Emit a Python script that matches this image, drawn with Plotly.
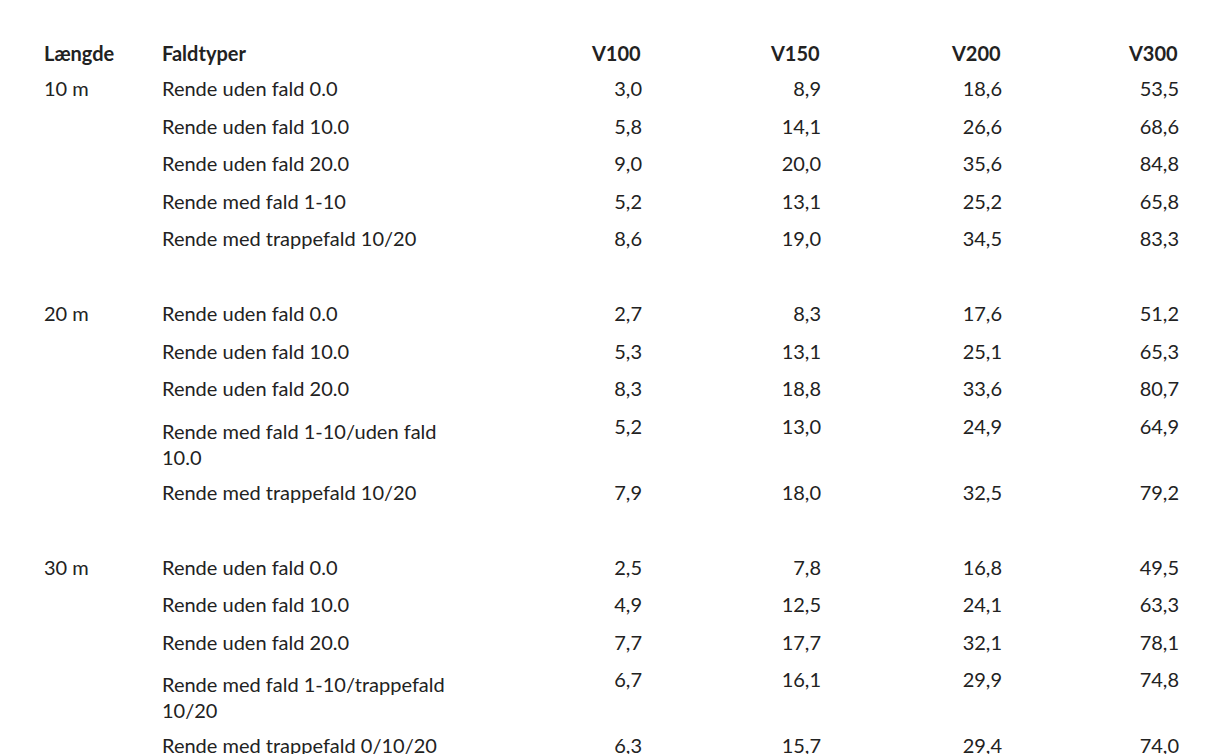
import plotly.graph_objects as go

# Data
laengder = ["10 m", "20 m", "30 m"]
faldtyper = [
    ["Rende uden fald 0.0", "Rende uden fald 10.0", "Rende uden fald 20.0",
     "Rende med fald 1-10", "Rende med trappefald 10/20"],
    ["Rende uden fald 0.0", "Rende uden fald 10.0", "Rende uden fald 20.0",
     "Rende med fald 1-10/uden fald 10.0", "Rende med trappefald 10/20"],
    ["Rende uden fald 0.0", "Rende uden fald 10.0", "Rende uden fald 20.0",
     "Rende med fald 1-10/trappefald 10/20", "Rende med trappefald 0/10/20"],
]
v100 = [[3.0, 5.8, 9.0, 5.2, 8.6], [2.7, 5.3, 8.3, 5.2, 7.9], [2.5, 4.9, 7.7, 6.7, 6.3]]
v150 = [[8.9, 14.1, 20.0, 13.1, 19.0], [8.3, 13.1, 18.8, 13.0, 18.0], [7.8, 12.5, 17.7, 16.1, 15.7]]
v200 = [[18.6, 26.6, 35.6, 25.2, 34.5], [17.6, 25.1, 33.6, 24.9, 32.5], [16.8, 24.1, 32.1, 29.9, 29.4]]
v300 = [[53.5, 68.6, 84.8, 65.8, 83.3], [51.2, 65.3, 80.7, 64.9, 79.2], [49.5, 63.3, 78.1, 74.8, 74.0]]
headers = ["Længde", "Faldtyper", "V100", "V150", "V200", "V300"]


def fmt(v):
    return f"{v:.1f}".replace(".", ",")


cols = [[] for _ in range(6)]
for g, laengde in enumerate(laengder):
    if g > 0:
        for c in cols:
            c.append("")
    for i in range(5):
        cols[0].append(laengde if i == 0 else "")
        cols[1].append(faldtyper[g][i])
        cols[2].append(fmt(v100[g][i]))
        cols[3].append(fmt(v150[g][i]))
        cols[4].append(fmt(v200[g][i]))
        cols[5].append(fmt(v300[g][i]))

font = dict(family="Lato", size=20, color="#222222")
aligns = ["left", "left", "right", "right", "right", "right"]
fig = go.Figure(go.Table(
    domain=dict(x=[28 / 1232, 1179 / 1232], y=[0, 1]),
    columnwidth=[118, 340, 156, 179, 181, 177],
    header=dict(
        values=[f"<b>{h}</b>" for h in headers],
        align=aligns, font=font,
        fill_color="white", line_color="white", height=37.5,
    ),
    cells=dict(
        values=cols,
        align=aligns, font=font,
        fill_color="white", line_color="white", height=37.5,
    ),
))
fig.update_layout(width=1232, height=754, margin=dict(l=0, r=0, t=25, b=0),
                  paper_bgcolor="white")
fig.write_html("out.html")
